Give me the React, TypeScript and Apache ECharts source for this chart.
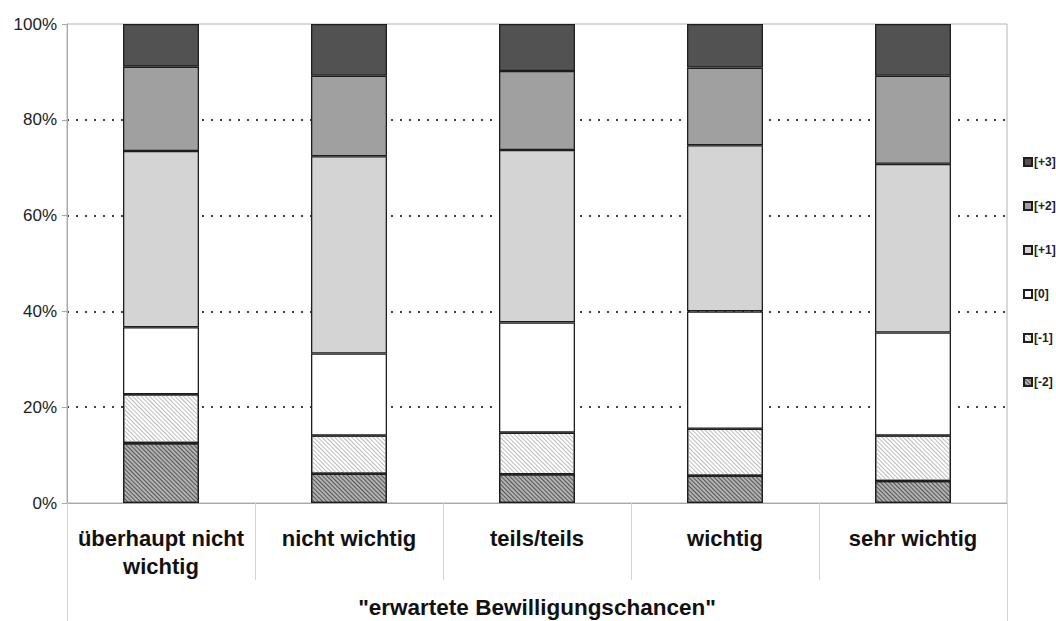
import React, { useEffect, useRef } from 'react';
import * as echarts from 'echarts';

const categories = ['überhaupt nicht\nwichtig', 'nicht wichtig', 'teils/teils', 'wichtig', 'sehr wichtig'];
const axisTitle = '"erwartete Bewilligungschancen"';
const legendOrder = ['[+3]', '[+2]', '[+1]', '[0]', '[-1]', '[-2]'];
const valsM2 = [12.5, 6.1, 6.0, 5.7, 4.6];
const valsM1 = [10.2, 8.0, 8.7, 9.8, 9.5];
const vals0 = [14.0, 17.1, 23.0, 24.5, 21.5];
const valsP1 = [36.8, 41.2, 36.0, 34.7, 35.2];
const valsP2 = [17.6, 16.8, 16.5, 16.2, 18.4];
const valsP3 = [8.9, 10.8, 9.8, 9.1, 10.8];

const FONT = '"Liberation Sans", Arial, sans-serif';

export default function App() {
  const ref = useRef<HTMLDivElement>(null);
  useEffect(() => {
    if (!ref.current) return;
    const chart = echarts.init(ref.current, null, { renderer: 'svg' });
    const border = { borderColor: '#1e1e1e', borderWidth: 1.3 };
    const mk = (name: string, data: number[], itemStyle: any) => ({
      name,
      type: 'bar',
      stack: 'total',
      data,
      barWidth: 76,
      itemStyle: { ...border, ...itemStyle },
      emphasis: { disabled: true },
    });
    chart.setOption({
      animation: false,
      textStyle: { fontFamily: FONT },
      grid: {
        left: 67, right: 49, top: 24, bottom: 118,
        show: true, borderColor: '#b4b4b4', borderWidth: 1, backgroundColor: 'transparent',
      },
      legend: {
        orient: 'vertical',
        left: 1018,
        top: 151,
        icon: 'rect',
        itemWidth: 8,
        itemHeight: 8,
        itemGap: 32,
        data: legendOrder,
        selectedMode: false,
        textStyle: { fontFamily: FONT, fontSize: 12, fontWeight: 'bold', color: '#222', padding: [0, 0, 0, -3] },
      },
      xAxis: [
        {
          type: 'category',
          data: categories,
          axisLine: { show: true, lineStyle: { color: '#a8a8a8', width: 1 } },
          axisTick: { show: true, length: 77, interval: 0, lineStyle: { color: '#d4d4d4' } },
          axisLabel: {
            interval: 0, margin: 21, fontFamily: FONT, fontSize: 22, fontWeight: 'bold',
            color: '#111', lineHeight: 28,
          },
          splitLine: { show: false },
        },
        {
          type: 'category',
          position: 'bottom',
          data: [axisTitle],
          axisLine: { show: false },
          axisTick: { show: true, length: 118, interval: 0, lineStyle: { color: '#d4d4d4' } },
          axisLabel: {
            interval: 0, margin: 90, fontFamily: FONT, fontSize: 22.5, fontWeight: 'bold',
            color: '#111', lineHeight: 28,
          },
          splitLine: { show: false },
        },
      ],
      yAxis: {
        type: 'value',
        min: 0,
        max: 100,
        interval: 20,
        axisLine: { show: true, lineStyle: { color: '#a8a8a8' } },
        axisTick: { show: true, length: 5, lineStyle: { color: '#a8a8a8' } },
        axisLabel: { formatter: '{value}%', fontFamily: FONT, fontSize: 17, color: '#222', margin: 10 },
        splitLine: {
          show: true,
          lineStyle: {
            color: ['transparent', '#444', '#444', '#444', '#444', 'transparent'],
            type: [2, 7],
            width: 2,
          },
        },
      },
      series: [
        mk('[-2]', valsM2, {
          color: '#b2b2b2',
          decal: {
            symbol: 'rect', symbolSize: 1, color: '#555',
            dashArrayX: [1, 0], dashArrayY: [1, 2], rotation: Math.PI / 4,
          },
        }),
        mk('[-1]', valsM1, {
          color: '#ffffff',
          decal: {
            symbol: 'rect', symbolSize: 1, color: '#bcbcbc',
            dashArrayX: [1, 0], dashArrayY: [1, 2], rotation: Math.PI / 4,
          },
        }),
        mk('[0]', vals0, { color: '#ffffff' }),
        mk('[+1]', valsP1, { color: '#d4d4d4' }),
        mk('[+2]', valsP2, { color: '#a0a0a0' }),
        mk('[+3]', valsP3, { color: '#525252' }),
      ],
    });
    return () => chart.dispose();
  }, []);
  return (
    <div
      ref={ref}
      style={{ position: 'fixed', left: 0, top: 0, width: 1056, height: 621, background: '#fff' }}
    />
  );
}
